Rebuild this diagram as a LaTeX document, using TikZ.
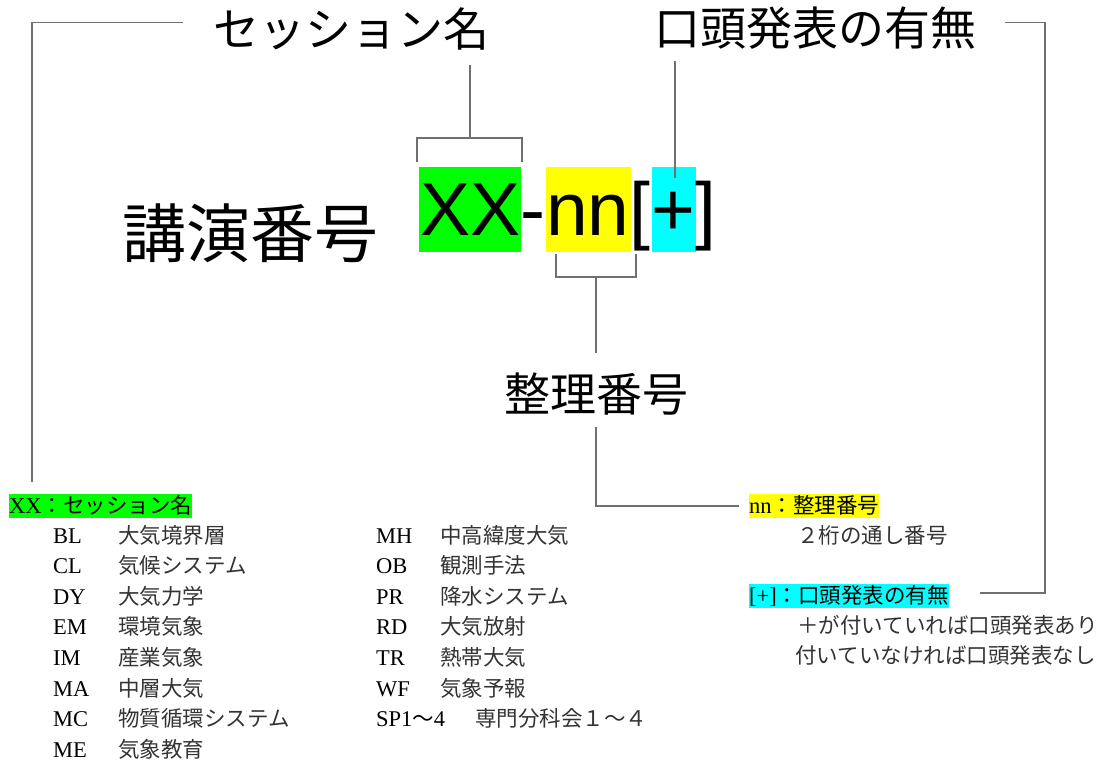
\documentclass[tikz,border=0pt]{standalone}
\usepackage{fontspec}
\setmainfont{Liberation Serif}
\newfontfamily\jpg{Noto Sans CJK JP}
\newfontfamily\arialf{Liberation Sans}
\newcommand{\myjp}{\jpg\fontsize{21.5}{24}\selectfont}
\definecolor{lnc}{RGB}{112,112,112}
\definecolor{vgreen}{RGB}{0,255,0}
\definecolor{vyellow}{RGB}{255,255,0}
\definecolor{vcyan}{RGB}{0,255,255}
\begin{document}
\begin{tikzpicture}[x=1pt,y=-1pt,
 conn/.style={draw=lnc, line width=1.6pt},
 bigtitle/.style={font=\jpg\fontsize{46}{50}\selectfont, inner sep=0},
 hugetitle/.style={font=\jpg\fontsize{64}{70}\selectfont, inner sep=0},
 codepart/.style={font=\arialf\fontsize{75}{80}\selectfont, inner sep=0, anchor=base west},
 hl/.style={inner sep=0, minimum height=85pt, anchor=north west},
 item/.style={inner sep=0, anchor=base west, font=\fontsize{22.5}{24}\selectfont},
 jitem/.style={inner sep=0, anchor=base west, font=\myjp, text=black!80},
 head/.style={inner sep=0, anchor=base west, font=\fontsize{22.5}{24}\selectfont, text height=19.5pt, text depth=4.5pt}
]
\useasboundingbox (0,0) rectangle (1110,762);

% titles
\node[bigtitle] (sess) at (351,28.5) {セッション名};
\node[bigtitle] (oral) at (815,28.5) {口頭発表の有無};
\node[hugetitle] (kouen) at (250,233) {講演番号};
\node[bigtitle] (seiri) at (596,394) {整理番号};

% highlight boxes
\node[hl, fill=vgreen, minimum width=102pt] (gbox) at (419,167) {};
\node[hl, fill=vyellow, minimum width=85pt] (ybox) at (546,167) {};
\node[hl, fill=vcyan, minimum width=44pt] (cbox) at (652,167) {};

% code
\node[codepart] (xx) at (420,235) {XX};
\node[codepart] (dash) at (xx.base east) {-};
\node[codepart] (nn) at (dash.base east) {nn};
\node[codepart] (lb) at (nn.base east) {[};
\node[codepart] (pl) at (lb.base east) {+};
\node[codepart] (rb) at (pl.base east) {]};

% connector coordinates
\coordinate (sstem) at (470,65);
\coordinate (sbr) at (470,138);
\coordinate (ostem) at (675,61);
\coordinate (otip) at (675,178);
\coordinate (nbr) at (596,277);
\coordinate (nstem) at (596,353);
\coordinate (ntop) at (596,427);
\coordinate (lstart) at (183,22.7);
\coordinate (rstart) at (1005,22.7);

% brackets
\draw[conn] (417,162) -- (417,138) -- (522,138) -- (522,162);
\draw[conn] (sbr) -- (sstem);
\draw[conn] (ostem) -- (otip);
\draw[conn] (556,254) -- (556,277) -- (636,277) -- (636,254);
\draw[conn] (nbr) -- (nstem);

% lower headings
\node[head, fill=vgreen] (h1) at (9,513) {XX{\myjp ：セッション名}};
\node[head, fill=vyellow] (h2) at (749,513) {nn{\myjp ：整理番号}};
\node[head, fill=vcyan] (h3) at (749,603) {[+]{\myjp ：口頭発表の有無}};

% long connectors
\draw[conn] (lstart) -- (32,22.7) -- (32,482);
\draw[conn] (rstart) -- (1045,22.7) -- (1045,593) -- (980,593);
\draw[conn] (ntop) -- (596,506) -- (739,506);

% descriptions
\node[jitem] (d1) at (797,543) {２桁の通し番号};
\node[jitem] (d2) at (797,633) {＋が付いていれば口頭発表あり};
\node[jitem] (d3) at (795,663) {付いていなければ口頭発表なし};

% session list, column 1
\foreach \c/\n [count=\i] in {BL/大気境界層,CL/気候システム,DY/大気力学,EM/環境気象,IM/産業気象,MA/中層大気,MC/物質循環システム,ME/気象教育}{
  \node[item] (ca\i) at (53,{543+30.6*(\i-1)}) {\c};
  \node[jitem] (na\i) at (118,{543+30.6*(\i-1)}) {\n};
}
% column 2
\foreach \c/\n [count=\i] in {MH/中高緯度大気,OB/観測手法,PR/降水システム,RD/大気放射,TR/熱帯大気,WF/気象予報}{
  \node[item] (cb\i) at (376,{543+30.6*(\i-1)}) {\c};
  \node[jitem] (nb\i) at (440,{543+30.6*(\i-1)}) {\n};
}
\node[item] (cb7) at (376,726.6) {SP1{\myjp\color{black}～}4};
\node[jitem] (nb7) at (475,726.6) {専門分科会１～４};
\end{tikzpicture}
\end{document}
